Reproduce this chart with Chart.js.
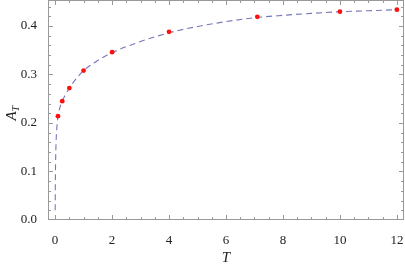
<!DOCTYPE html>
<html><head><meta charset="utf-8">
<script src="https://cdn.jsdelivr.net/npm/chart.js@4/dist/chart.umd.min.js"></script>
<style>html,body{margin:0;padding:0;background:#fff}#wrap{width:405px;height:267px}</style>
</head><body><div id="wrap"><canvas id="c" width="405" height="267"></canvas></div>
<script>
const curveT = [0.003, 0.006, 0.01, 0.02, 0.04, 0.07, 0.1, 0.15, 0.25, 0.35, 0.5, 0.75, 1, 1.5, 2, 3, 4, 5, 6, 7, 8, 9, 10, 11, 12];
const curveA = [0.02, 0.06, 0.09, 0.13, 0.17, 0.197, 0.214, 0.228, 0.245, 0.257, 0.272, 0.292, 0.308, 0.329, 0.345, 0.368, 0.386, 0.399, 0.409, 0.417, 0.422, 0.426, 0.4295, 0.4315, 0.4336];
const pointT = [0.1, 0.25, 0.5, 1, 2, 4, 7.1, 10, 12];
const pointA = [0.214, 0.245, 0.272, 0.308, 0.346, 0.388, 0.419, 0.4295, 0.4336];
const xTicks = [0, 2, 4, 6, 8, 10, 12];
const yTicks = [0.0, 0.1, 0.2, 0.3, 0.4];

const FONT = "Liberation Serif";
const frameColor = '#999999';

const framePlugin = {
  id: 'frame',
  beforeDatasetsDraw(chart) {
    const {ctx, chartArea: a, scales: {x, y}} = chart;
    ctx.save();
    ctx.strokeStyle = frameColor;
    ctx.lineWidth = 1;
    const L = Math.round(a.left) + 0.5, R = Math.round(a.right) - 0.5;
    const T = Math.round(a.top) + 0.5, B = Math.round(a.bottom) - 0.5;
    ctx.strokeRect(L, T, R - L, B - T);
    ctx.beginPath();
    const xStep = (xTicks[1] - xTicks[0]) / 4;
    for (let v = xTicks[0] - xStep; v <= xTicks[xTicks.length - 1] + xStep + 1e-9; v += xStep) {
      const px = Math.round(x.getPixelForValue(v)) + 0.5;
      if (px < L || px > R) continue;
      const major = xTicks.some(t => Math.abs(t - v) < 1e-6);
      const len = major ? 4.5 : 2.5;
      ctx.moveTo(px, B); ctx.lineTo(px, B - len);
      ctx.moveTo(px, T); ctx.lineTo(px, T + len);
    }
    const yStep = (yTicks[1] - yTicks[0]) / 5;
    for (let v = yTicks[0]; v <= y.max + 1e-9; v += yStep) {
      const py = Math.round(y.getPixelForValue(v)) + 0.5;
      if (py < T || py > B) continue;
      const major = yTicks.some(t => Math.abs(t - v) < 1e-6);
      const len = major ? 4.5 : 2.5;
      ctx.moveTo(L, py); ctx.lineTo(L + len, py);
      ctx.moveTo(R, py); ctx.lineTo(R - len, py);
    }
    ctx.stroke();
    ctx.restore();
  },
  afterDraw(chart) {
    const {ctx} = chart;
    ctx.save();
    ctx.fillStyle = '#222';
    ctx.translate(12, 113);
    ctx.rotate(-Math.PI / 2);
    ctx.textBaseline = 'alphabetic';
    ctx.textAlign = 'left';
    ctx.font = 'italic 15px ' + FONT;
    const wA = ctx.measureText('A').width;
    ctx.fillText('A', -wA / 2 - 3, 4);
    ctx.font = 'italic 10px ' + FONT;
    ctx.fillText('T', wA / 2 - 3, 7);
    ctx.restore();
    ctx.save();
    ctx.fillStyle = '#222';
    ctx.font = 'italic 15px ' + FONT;
    ctx.textAlign = 'center';
    ctx.textBaseline = 'middle';
    ctx.fillText('T', chart.scales.x.getPixelForValue(6), 258);
    ctx.restore();
  }
};

new Chart(document.getElementById('c'), {
  type: 'scatter',
  data: {
    datasets: [
      {
        data: curveT.map((t, i) => ({x: t, y: curveA[i]})),
        showLine: true,
        borderColor: 'rgba(95,95,175,0.85)',
        borderWidth: 1.1,
        borderDash: [6, 4],
        pointRadius: 0,
        pointHoverRadius: 0,
        cubicInterpolationMode: 'monotone',
        order: 2
      },
      {
        data: pointT.map((t, i) => ({x: t, y: pointA[i]})),
        showLine: false,
        backgroundColor: '#ff1010',
        borderColor: '#ff1010',
        pointRadius: 2.4,
        pointHoverRadius: 2.4,
        borderWidth: 0,
        order: 1
      }
    ]
  },
  options: {
    responsive: false,
    animation: false,
    devicePixelRatio: 1,
    layout: {autoPadding: false, padding: {top: 0, right: 1, left: 0, bottom: 0}},
    plugins: {legend: {display: false}, tooltip: {enabled: false}},
    scales: {
      x: {
        type: 'linear', min: -0.25, max: 12.25,
        afterBuildTicks: s => { s.ticks = xTicks.map(v => ({value: v})); },
        afterFit: s => { s.height = 47; s.paddingLeft = 0; s.paddingRight = 0; },
        grid: {display: false}, border: {display: false},
        ticks: {autoSkip: false, maxRotation: 0, padding: 5, color: '#222', font: {family: FONT, size: 13}, callback: v => String(v)}
      },
      y: {
        type: 'linear', min: 0, max: 0.4536,
        afterBuildTicks: s => { s.ticks = yTicks.map(v => ({value: v})); },
        afterFit: s => { s.width = 48; s.paddingTop = 0; s.paddingBottom = 0; },
        grid: {display: false}, border: {display: false},
        ticks: {autoSkip: false, padding: 3, color: '#222', font: {family: FONT, size: 13}, callback: v => v.toFixed(1)}
      }
    }
  },
  plugins: [framePlugin]
});
</script></body></html>
